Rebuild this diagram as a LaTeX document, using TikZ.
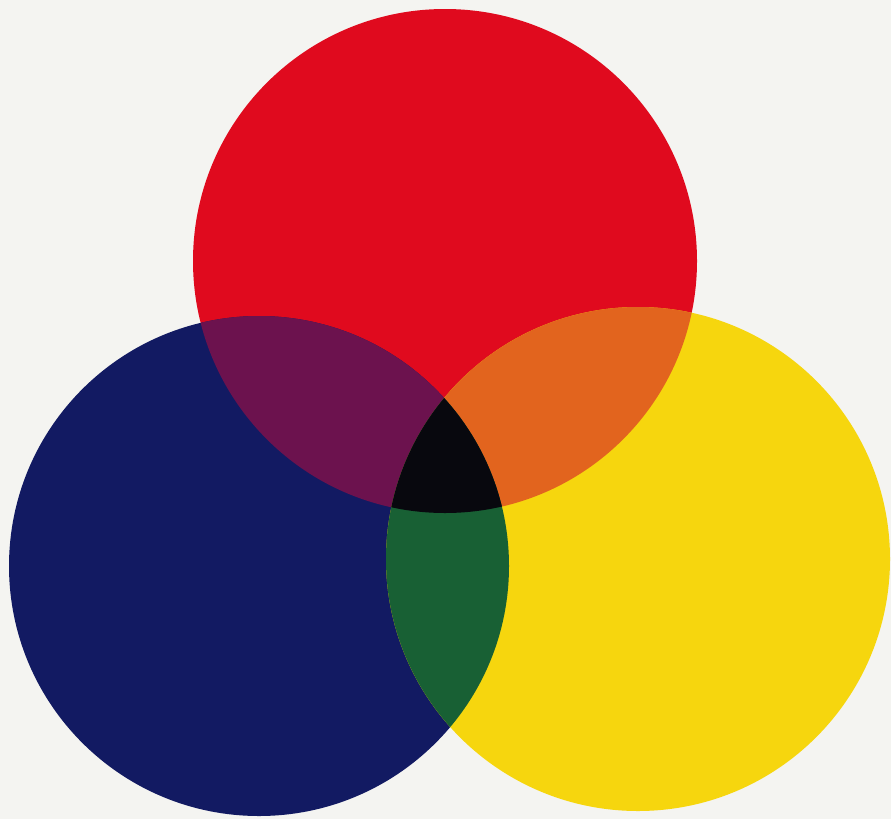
\documentclass[tikz,border=0pt]{standalone}
\definecolor{bgpaper}{RGB}{244,244,241}
\definecolor{cred}{RGB}{224,10,30}
\definecolor{cblue}{RGB}{18,26,98}
\definecolor{cyellow}{RGB}{246,214,14}
\definecolor{cpurple}{RGB}{108,18,78}
\definecolor{corange}{RGB}{226,100,30}
\definecolor{cgreen}{RGB}{24,96,52}
\definecolor{cblack}{RGB}{8,8,14}
\begin{document}
\begin{tikzpicture}[x=1pt,y=-1pt]
\def\redc{(445,261) circle[radius=252]}
\def\bluec{(259,566) circle[radius=250]}
\def\yellowc{(638,559) circle[radius=252]}
\fill[bgpaper] (0,0) rectangle (891,819);
\useasboundingbox (0,0) rectangle (891,819);
\fill[cred] \redc;
\fill[cblue] \bluec;
\fill[cyellow] \yellowc;
\begin{scope}
  \clip \redc;
  \fill[cpurple] \bluec;
  \fill[corange] \yellowc;
\end{scope}
\begin{scope}
  \clip \bluec;
  \fill[cgreen] \yellowc;
\end{scope}
\begin{scope}
  \clip \redc;
  \clip \bluec;
  \fill[cblack] \yellowc;
\end{scope}
\end{tikzpicture}
\end{document}
